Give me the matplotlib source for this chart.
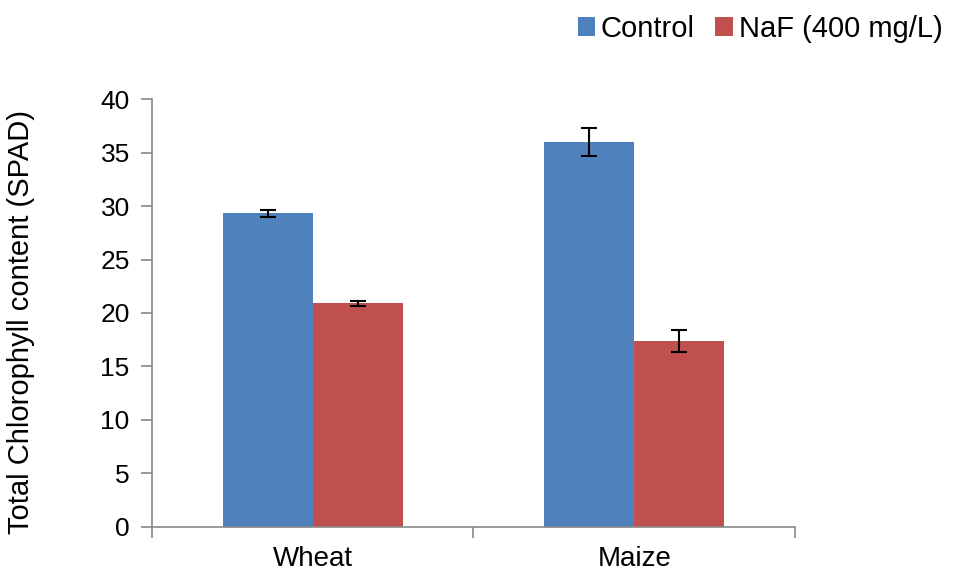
import numpy as np
import matplotlib.pyplot as plt

plt.rcParams['font.family'] = ['Liberation Sans', 'DejaVu Sans']

# data
crops = ["Wheat", "Maize"]
control = [29.3, 36.0]
control_err = [0.3, 1.3]
naf = [20.9, 17.4]
naf_err = [0.2, 1.0]
y_ticks = [0, 5, 10, 15, 20, 25, 30, 35, 40]

blue = "#4F81BD"
red = "#C0504D"
grey = "#888888"

fig = plt.figure(figsize=(9.57, 5.76), dpi=100)
ax = fig.add_axes([0.1588, 0.0851, 0.6719, 0.743])

x = np.arange(len(crops))
w = 0.28
ax.bar(x - w / 2, control, w, color=blue, label="Control",
       yerr=control_err, capsize=6,
       error_kw=dict(ecolor="black", elinewidth=1.5, capthick=1.5))
ax.bar(x + w / 2, naf, w, color=red, label="NaF (400 mg/L)",
       yerr=naf_err, capsize=6,
       error_kw=dict(ecolor="black", elinewidth=1.5, capthick=1.5))

ax.set_xlim(-0.5, len(crops) - 0.5)
ax.set_ylim(0, 40)
ax.set_yticks(y_ticks)
ax.set_yticklabels([str(t) for t in y_ticks], fontsize=19)

# category labels in the middle, ticks on the boundaries
ax.set_xticks(np.arange(len(crops) + 1) - 0.5)
ax.set_xticklabels([])
ax.set_xticks(x, minor=True)
ax.set_xticklabels(crops, minor=True, fontsize=20)
ax.tick_params(axis="x", which="minor", length=0, pad=14)
ax.tick_params(axis="x", which="major", length=8, color=grey, width=1.2)
ax.tick_params(axis="y", length=8, color=grey, width=1.2, pad=8)

for s in ["top", "right"]:
    ax.spines[s].set_visible(False)
for s in ["left", "bottom"]:
    ax.spines[s].set_color(grey)
    ax.spines[s].set_linewidth(1.2)

ax.set_ylabel("Total Chlorophyll content (SPAD)", fontsize=21)
ax.yaxis.set_label_coords(-0.182, 0.48)

fig.legend(loc="upper right", bbox_to_anchor=(1.0, 1.0), ncol=2,
           frameon=False, fontsize=21, handlelength=0.6, handleheight=0.6,
           handletextpad=0.2, columnspacing=0.7, borderaxespad=0.1)

fig.savefig("out.png", dpi=100)
